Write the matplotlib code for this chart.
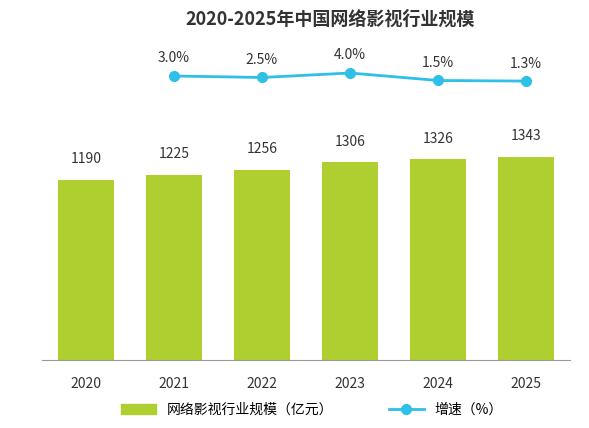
import matplotlib.pyplot as plt

plt.rcParams['font.family'] = ['Noto Sans CJK SC', 'DejaVu Sans']

years = ['2020', '2021', '2022', '2023', '2024', '2025']
scale = [1190, 1225, 1256, 1306, 1326, 1343]
growth_years = ['2021', '2022', '2023', '2024', '2025']
growth = [3.0, 2.5, 4.0, 1.5, 1.3]

bar_color = '#aecf2f'
line_color = '#2ec0e6'

fig = plt.figure(figsize=(5.89, 4.28), dpi=100)
ax = fig.add_axes([42 / 589, 68 / 428, 528 / 589, 320 / 428])
x = list(range(len(years)))
ax.bar(x, scale, width=0.64, color=bar_color)
for xi, v in zip(x, scale):
    ax.text(xi, v + 90, str(v), ha='center', va='bottom', fontsize=10, color='#333333')
ax.set_ylim(0, 2116)
ax.set_xlim(-0.5, 5.5)
ax.set_xticks(x)
ax.set_xticklabels(years, fontsize=10, color='#333333')
ax.tick_params(axis='x', length=0, pad=12)
ax.set_yticks([])
for s in ['top', 'right', 'left']:
    ax.spines[s].set_visible(False)
ax.spines['bottom'].set_color('#999999')

ax2 = ax.twinx()
gx = [years.index(y) for y in growth_years]
ax2.plot(gx, growth, color=line_color, marker='o', markersize=7, linewidth=2,
         label='增速（%）')
for xi, v in zip(gx, growth):
    ax2.text(xi, v + 3.5, f'{v:.1f}%', ha='center', va='bottom', fontsize=10, color='#333333')
ax2.set_ylim(-91.7, 15)
ax2.axis('off')

fig.text(0.56, 0.955, '2020-2025年中国网络影视行业规模', ha='center', va='center',
         fontsize=13, fontweight='bold', color='#333333')

h1 = plt.Rectangle((0, 0), 1, 1, color=bar_color)
h2 = plt.Line2D([], [], color=line_color, marker='o', markersize=7, linewidth=2)
fig.legend([h1, h2], ['网络影视行业规模（亿元）', '增速（%）'], loc='center',
           bbox_to_anchor=(0.53, 0.042), ncol=2, frameon=False, fontsize=10,
           columnspacing=4, handlelength=2.5)

fig.savefig('out.png', dpi=100)
